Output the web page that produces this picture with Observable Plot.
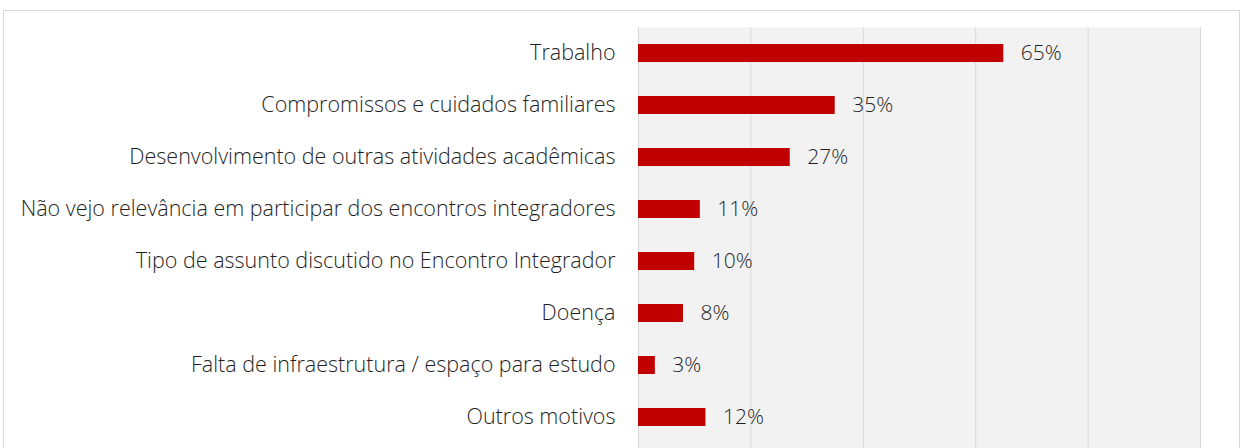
<!DOCTYPE html>
<html>
<head>
<meta charset="utf-8">
<script src="https://cdn.jsdelivr.net/npm/d3@7"></script>
<script src="https://cdn.jsdelivr.net/npm/@observablehq/plot@0.6"></script>
<style>
  html, body { margin: 0; padding: 0; background: #fff; overflow: hidden; }
  #frame { position: absolute; left: 3px; top: 10px; width: 1237px; height: 460px; border: 1px solid #d9d9d9; box-sizing: border-box; }
  #chart { position: absolute; left: 0; top: 0; }
</style>
</head>
<body>
<div id="frame"></div>
<div id="chart"></div>
<script>
const categories = [
  "Trabalho",
  "Compromissos e cuidados familiares",
  "Desenvolvimento de outras atividades acadêmicas",
  "Não vejo relevância em participar dos encontros integradores",
  "Tipo de assunto discutido no Encontro Integrador",
  "Doença",
  "Falta de infraestrutura / espaço para estudo",
  "Outros motivos"
];
const values = [65, 35, 27, 11, 10, 8, 3, 12];
const gridTicks = [0, 20, 40, 60, 80, 100];

const data = categories.map((c, i) => ({category: c, value: values[i]}));

const chart = Plot.plot({
  width: 1246,
  height: 448,
  marginLeft: 638,
  marginRight: 46,
  marginTop: 27,
  marginBottom: 0,
  style: {fontFamily: "'Open Sans', sans-serif", background: "transparent", fontWeight: 300},
  x: {domain: [0, 100], axis: null},
  y: {domain: categories, range: [27, 444], paddingInner: 0.65, paddingOuter: 0.325, label: null},
  marks: [
    Plot.frame({fill: "#f2f2f2", stroke: null}),
    Plot.gridX(gridTicks, {stroke: "#d9d9d9", strokeOpacity: 1, strokeWidth: 1}),
    Plot.barX(data, {x: "value", y: "category", fill: "#c00000"}),
    Plot.text(data, {x: "value", y: "category", text: d => d.value + "%", textAnchor: "start", dx: 17, fontSize: 21, fontWeight: 300, fill: "#1f1f1f"}),
    Plot.axisY({tickSize: 0, tickPadding: 23, fontSize: 21.5, fontWeight: 300, color: "#1f1f1f", label: null})
  ]
});
document.getElementById("chart").appendChild(chart);
</script>
</body>
</html>
